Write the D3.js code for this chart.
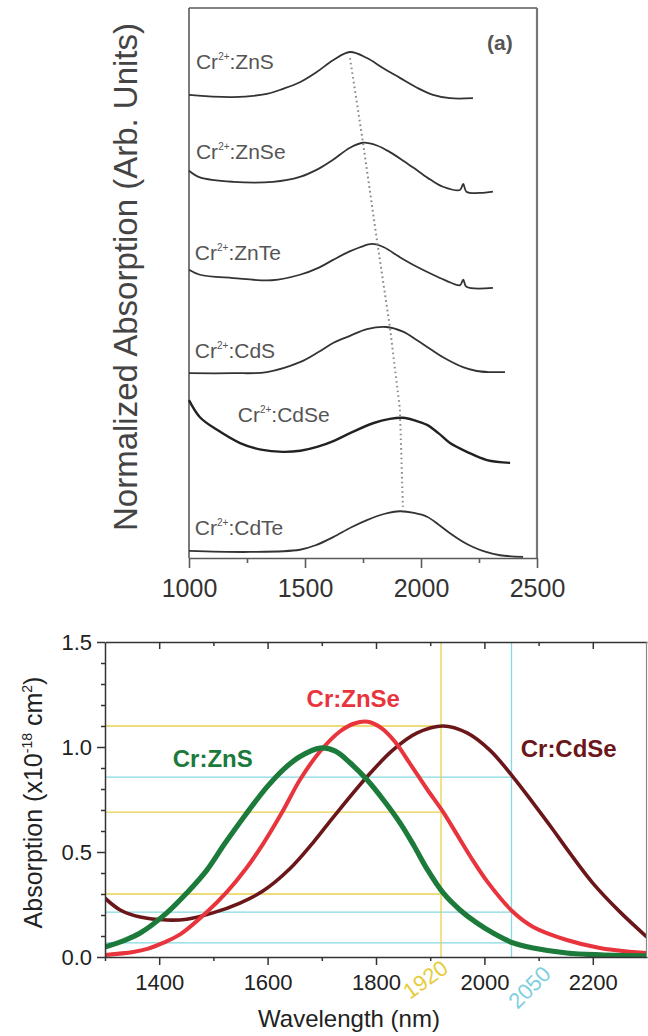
<!DOCTYPE html>
<html><head><meta charset="utf-8">
<script src="https://cdn.jsdelivr.net/npm/d3@7"></script>
<style>
body{margin:0;background:#fff}
svg{display:block}
text{font-family:"Liberation Sans",Arial,Helvetica,sans-serif}
</style>
</head><body>
<svg id="chart" width="648" height="1036"></svg>
<script>
// ---------- DATA: top panel (a), normalized & vertically offset spectra ----------
const topNames = ["ZnS","ZnSe","ZnTe","CdS","CdSe","CdTe"];
const topZnS  = [[1000,84.2],[1190,83.8],[1336,84.4],[1405,85.3],[1478,86.5],[1552,88.4],[1621,90.5],[1694,92.0],[1767,90.9],[1836,89.1],[1909,87.3],[1983,85.5],[2052,84.2],[2125,83.6],[2224,83.6]];
const topZnSe = [[1000,70.4],[1047,69.2],[1190,68.4],[1362,68.4],[1478,69.3],[1560,70.8],[1621,72.4],[1694,74.6],[1750,75.5],[1810,75.0],[1866,73.8],[1925,72.2],[1983,70.5],[2040,68.8],[2095,67.5],[2168,66.9],[2182,68.0],[2196,66.6],[2267,66.4],[2310,66.6]];
const topZnTe = [[1000,52.4],[1047,51.5],[1190,50.9],[1358,50.5],[1478,51.5],[1560,52.8],[1621,54.2],[1690,55.7],[1737,56.5],[1790,57.1],[1840,56.5],[1909,54.7],[1980,53.0],[2052,51.5],[2110,50.4],[2168,49.6],[2182,50.6],[2196,49.3],[2310,49.1]];
const topCdS  = [[1000,33.6],[1190,33.6],[1336,33.8],[1478,35.6],[1560,37.5],[1621,39.1],[1694,40.4],[1767,41.6],[1850,42.0],[1920,41.2],[1983,39.6],[2040,38.0],[2095,36.5],[2181,34.7],[2240,34.0],[2297,33.8],[2362,33.8]];
const topCdSe = [[1000,28.7],[1047,25.6],[1121,23.3],[1220,20.9],[1310,19.7],[1405,19.3],[1480,19.5],[1552,20.2],[1625,21.3],[1694,22.7],[1793,24.5],[1866,25.3],[1922,25.5],[1975,25.0],[2026,24.2],[2075,22.7],[2125,20.9],[2198,19.3],[2284,17.8],[2384,17.3]];
const topCdTe = [[1000,1.3],[1263,1.1],[1478,1.5],[1550,2.4],[1621,3.8],[1700,5.6],[1767,6.9],[1840,8.0],[1909,8.5],[1970,8.2],[2026,7.5],[2075,6.1],[2125,4.5],[2175,3.1],[2224,2.0],[2280,1.1],[2341,0.5],[2440,0.2]];
const topLabelX = [1030,1030,1025,1025,1210,1025];      // wavelength where each label starts
const topLabelY = [88.9,72.5,54.2,36.4,24.7,4.2];      // label baseline level
const peakWavelengths = [1694,1750,1810,1866,1909,1922];
const peakLevels      = [90.9,75.5,57.8,42.0,27.1,9.3];
const topMajorTicks = [1000,1500,2000,2500];
const topMinorTicks = [1250,1750,2250];

// ---------- DATA: bottom panel, absorption cross-sections ----------
const seriesNames = ["Cr:ZnS","Cr:ZnSe","Cr:CdSe"];
const crZnS  = [[1300,0.048],[1335,0.078],[1365,0.114],[1414,0.21],[1451,0.305],[1488,0.414],[1521,0.54],[1560,0.68],[1599,0.81],[1630,0.895],[1660,0.955],[1697,0.995],[1725,0.98],[1752,0.925],[1783,0.845],[1813,0.75],[1844,0.64],[1870,0.53],[1894,0.42],[1924,0.305],[1955,0.224],[1986,0.162],[2016,0.114],[2053,0.067],[2090,0.043],[2152,0.019],[2213,0.01],[2300,0.005]];
const crZnSe = [[1300,0.01],[1352,0.024],[1380,0.04],[1407,0.067],[1440,0.11],[1488,0.214],[1525,0.31],[1560,0.42],[1592,0.54],[1627,0.69],[1660,0.845],[1697,0.98],[1734,1.075],[1760,1.112],[1785,1.12],[1810,1.09],[1835,1.025],[1863,0.92],[1894,0.80],[1924,0.69],[1949,0.585],[1975,0.475],[2005,0.36],[2053,0.214],[2090,0.143],[2152,0.081],[2213,0.043],[2274,0.024],[2300,0.019]];
const crCdSe = [[1300,0.28],[1328,0.224],[1365,0.19],[1414,0.176],[1451,0.18],[1499,0.21],[1549,0.257],[1592,0.315],[1641,0.42],[1684,0.545],[1721,0.665],[1783,0.857],[1831,0.985],[1876,1.067],[1924,1.10],[1968,1.067],[2010,0.985],[2053,0.857],[2090,0.733],[2127,0.605],[2152,0.515],[2200,0.352],[2250,0.215],[2300,0.095]];
const labelWavelengths = [1425,1672,2067];
const labelLevels      = [0.905,1.19,0.952];
const refWavelengths = [1920,2050];
const yellowLevels = [1.10,0.69,0.30];   // crossings at 1920 nm
const cyanLevels   = [0.857,0.214,0.067]; // crossings at 2050 nm
const xMajorTicks = [1400,1600,1800,2000,2200];
const xMinorTicks = [1300,1500,1700,1900,2100];
const yMajorTicks = [0,0.5,1.0,1.5];
const yMinorTicks = [0.1,0.2,0.3,0.4,0.6,0.7,0.8,0.9,1.1,1.2,1.3,1.4];

// ---------- DRAW ----------
const svg = d3.select("#chart");
svg.append("rect").attr("width",648).attr("height",1036).attr("fill","#fff");
const smooth = d3.curveCatmullRom.alpha(0.5);

// ===== top panel =====
const xT = d3.scaleLinear().domain([1000,2500]).range([189,537]);
const yT = d3.scaleLinear().domain([0,100]).range([558,8]);
const gT = svg.append("g");
const frameCol = "#5a5a5a";

gT.append("line").attr("x1",xT(1000)).attr("x2",xT(2500)).attr("y1",yT(100)).attr("y2",yT(100))
  .attr("stroke",frameCol).attr("stroke-width",1.6);
gT.append("line").attr("x1",xT(2500)).attr("x2",xT(2500)).attr("y1",yT(100)).attr("y2",yT(0))
  .attr("stroke","#777").attr("stroke-width",2.2);
gT.append("line").attr("x1",xT(1000)).attr("x2",xT(1000)).attr("y1",yT(100)).attr("y2",yT(0))
  .attr("stroke",frameCol).attr("stroke-width",1.6);

const axTop = gT.append("g").attr("transform",`translate(0,${yT(0)})`)
  .call(d3.axisBottom(xT).tickValues(topMajorTicks).tickSize(10).tickSizeOuter(0).tickPadding(11).tickFormat(d3.format("d")));
axTop.select(".domain").attr("stroke",frameCol).attr("stroke-width",1.6);
axTop.selectAll(".tick line").attr("stroke",frameCol).attr("stroke-width",1.6);
axTop.selectAll("text").attr("font-size",25).attr("fill","#333");
const axTopMin = gT.append("g").attr("transform",`translate(0,${yT(0)})`)
  .call(d3.axisBottom(xT).tickValues(topMinorTicks).tickSize(5).tickFormat(""));
axTopMin.select(".domain").remove();
axTopMin.selectAll(".tick line").attr("stroke",frameCol).attr("stroke-width",1.6);

const lineT = d3.line().x(d=>xT(d[0])).y(d=>yT(d[1])).curve(smooth);
const topData = [topZnS,topZnSe,topZnTe,topCdS,topCdSe,topCdTe];
topData.forEach((s,i)=>{
  gT.append("path").datum(s).attr("d",lineT).attr("fill","none")
    .attr("stroke",i===4?"#222":"#333").attr("stroke-width",i===4?2.4:1.8).attr("stroke-linejoin","round");
});
// peak trend (dotted)
gT.append("path").datum(d3.zip(peakWavelengths,peakLevels))
  .attr("d",d3.line().x(d=>xT(d[0])).y(d=>yT(d[1])))
  .attr("fill","none").attr("stroke","#8a8a8a").attr("stroke-width",2)
  .attr("stroke-dasharray","1.6,3.2");

// labels
topNames.forEach((n,i)=>{
  const t = gT.append("text").attr("x",xT(topLabelX[i])).attr("y",yT(topLabelY[i]))
    .attr("font-size",21).attr("fill","#555");
  t.append("tspan").text("Cr");
  t.append("tspan").attr("font-size",10).attr("dy",-9).text("2+");
  t.append("tspan").attr("dy",9).text(":"+n);
});
gT.append("text").attr("x",487).attr("y",50).attr("font-size",21).attr("font-weight","bold")
  .attr("fill","#555").text("(a)");
gT.append("text").attr("transform",`translate(137,${(yT(0)+yT(100))/2-6}) rotate(-90)`)
  .attr("text-anchor","middle").attr("font-size",33).attr("fill","#444")
  .text("Normalized Absorption (Arb. Units)");

// ===== bottom panel =====
const xB = d3.scaleLinear().domain([1300,2300]).range([105,647]);
const yB = d3.scaleLinear().domain([0,1.5]).range([957,642]);
const gB = svg.append("g");
const axCol = "#333";

svg.append("defs").append("clipPath").attr("id","clipB").append("rect")
  .attr("x",xB(1300)).attr("y",yB(1.5)).attr("width",xB(2300)-xB(1300)).attr("height",yB(0)-yB(1.5));

const yellow = "#e9d14e", cyan = "#86d9e2";
const refG = gB.append("g").attr("clip-path","url(#clipB)");
yellowLevels.forEach(v=>{
  refG.append("line").attr("x1",xB(1300)).attr("x2",xB(refWavelengths[0])).attr("y1",yB(v)).attr("y2",yB(v))
    .attr("stroke",yellow).attr("stroke-width",1.3);
});
cyanLevels.forEach(v=>{
  refG.append("line").attr("x1",xB(1300)).attr("x2",xB(refWavelengths[1])).attr("y1",yB(v)).attr("y2",yB(v))
    .attr("stroke",cyan).attr("stroke-width",1.3);
});
refG.append("line").attr("x1",xB(refWavelengths[0])).attr("x2",xB(refWavelengths[0])).attr("y1",yB(0)).attr("y2",yB(1.5))
  .attr("stroke",yellow).attr("stroke-width",1.3);
refG.append("line").attr("x1",xB(refWavelengths[1])).attr("x2",xB(refWavelengths[1])).attr("y1",yB(0)).attr("y2",yB(1.5))
  .attr("stroke",cyan).attr("stroke-width",1.3);

const lineB = d3.line().x(d=>xB(d[0])).y(d=>yB(d[1])).curve(smooth);
const colors = ["#1c7a3b","#e8343c","#6b1719"];
const widths = [5.2,4,3.6];
const curveG = gB.append("g").attr("clip-path","url(#clipB)");
[crCdSe,crZnSe,crZnS].forEach((s,k)=>{
  const i = [2,1,0][k];
  curveG.append("path").datum(s).attr("d",lineB).attr("fill","none")
    .attr("stroke",colors[i]).attr("stroke-width",widths[i]).attr("stroke-linejoin","round");
});

// axes
function styleAxis(g){
  g.selectAll(".domain").attr("stroke",axCol).attr("stroke-width",1.5);
  g.selectAll(".tick line").attr("stroke",axCol).attr("stroke-width",1.5);
  g.selectAll("text").attr("font-size",22).attr("fill","#222");
}
const axL = gB.append("g").attr("transform",`translate(${xB(1300)},0)`)
  .call(d3.axisLeft(yB).tickValues(yMajorTicks).tickSize(8).tickSizeOuter(0).tickPadding(5).tickFormat(d3.format(".1f")));
styleAxis(axL);
const axLm = gB.append("g").attr("transform",`translate(${xB(1300)},0)`)
  .call(d3.axisLeft(yB).tickValues(yMinorTicks).tickSize(4).tickFormat(""));
axLm.select(".domain").remove(); styleAxis(axLm);

const axBt = gB.append("g").attr("transform",`translate(0,${yB(0)})`)
  .call(d3.axisBottom(xB).tickValues(xMajorTicks).tickSize(8).tickSizeOuter(0).tickPadding(9).tickFormat(d3.format("d")));
styleAxis(axBt);
const axBm = gB.append("g").attr("transform",`translate(0,${yB(0)})`)
  .call(d3.axisBottom(xB).tickValues(xMinorTicks).tickSize(4).tickFormat(""));
axBm.select(".domain").remove(); styleAxis(axBm);

const axTp = gB.append("g").attr("transform",`translate(0,${yB(1.5)})`)
  .call(d3.axisTop(xB).tickValues(xMajorTicks).tickSize(-7).tickSizeOuter(0).tickFormat(""));
styleAxis(axTp);
const axTpm = gB.append("g").attr("transform",`translate(0,${yB(1.5)})`)
  .call(d3.axisTop(xB).tickValues(xMinorTicks.slice(1)).tickSize(-4).tickFormat(""));
axTpm.select(".domain").remove(); styleAxis(axTpm);

gB.append("line").attr("x1",xB(2300)-0.5).attr("x2",xB(2300)-0.5).attr("y1",yB(1.5)).attr("y2",yB(0))
  .attr("stroke","#888").attr("stroke-width",1.2);

// series labels
seriesNames.forEach((n,i)=>{
  gB.append("text").attr("x",xB(labelWavelengths[i])).attr("y",yB(labelLevels[i]))
    .attr("font-size",24).attr("font-weight","bold").attr("fill",colors[i]).text(n);
});

// rotated reference labels
gB.append("text").attr("transform",`translate(${xB(refWavelengths[0])-31},${yB(0)+43}) rotate(-36)`)
  .attr("font-size",22).attr("fill","#e7cc3a").text(String(refWavelengths[0]));
gB.append("text").attr("transform",`translate(${xB(refWavelengths[1])+6},${yB(0)+53}) rotate(-45)`)
  .attr("font-size",22).attr("fill","#7fcfdf").text(String(refWavelengths[1]));

// axis titles
gB.append("text").attr("x",349).attr("y",1027).attr("text-anchor","middle")
  .attr("font-size",24).attr("fill","#222").text("Wavelength (nm)");
const yt = gB.append("text").attr("transform",`translate(42,${(yB(0)+yB(1.5))/2+3}) rotate(-90)`)
  .attr("text-anchor","middle").attr("font-size",25).attr("fill","#222");
yt.append("tspan").text("Absorption (x10");
yt.append("tspan").attr("font-size",14).attr("dy",-10).text("-18");
yt.append("tspan").attr("dy",10).text(" cm");
yt.append("tspan").attr("font-size",14).attr("dy",-10).text("2");
yt.append("tspan").attr("dy",10).text(")");
</script>
</body></html>
